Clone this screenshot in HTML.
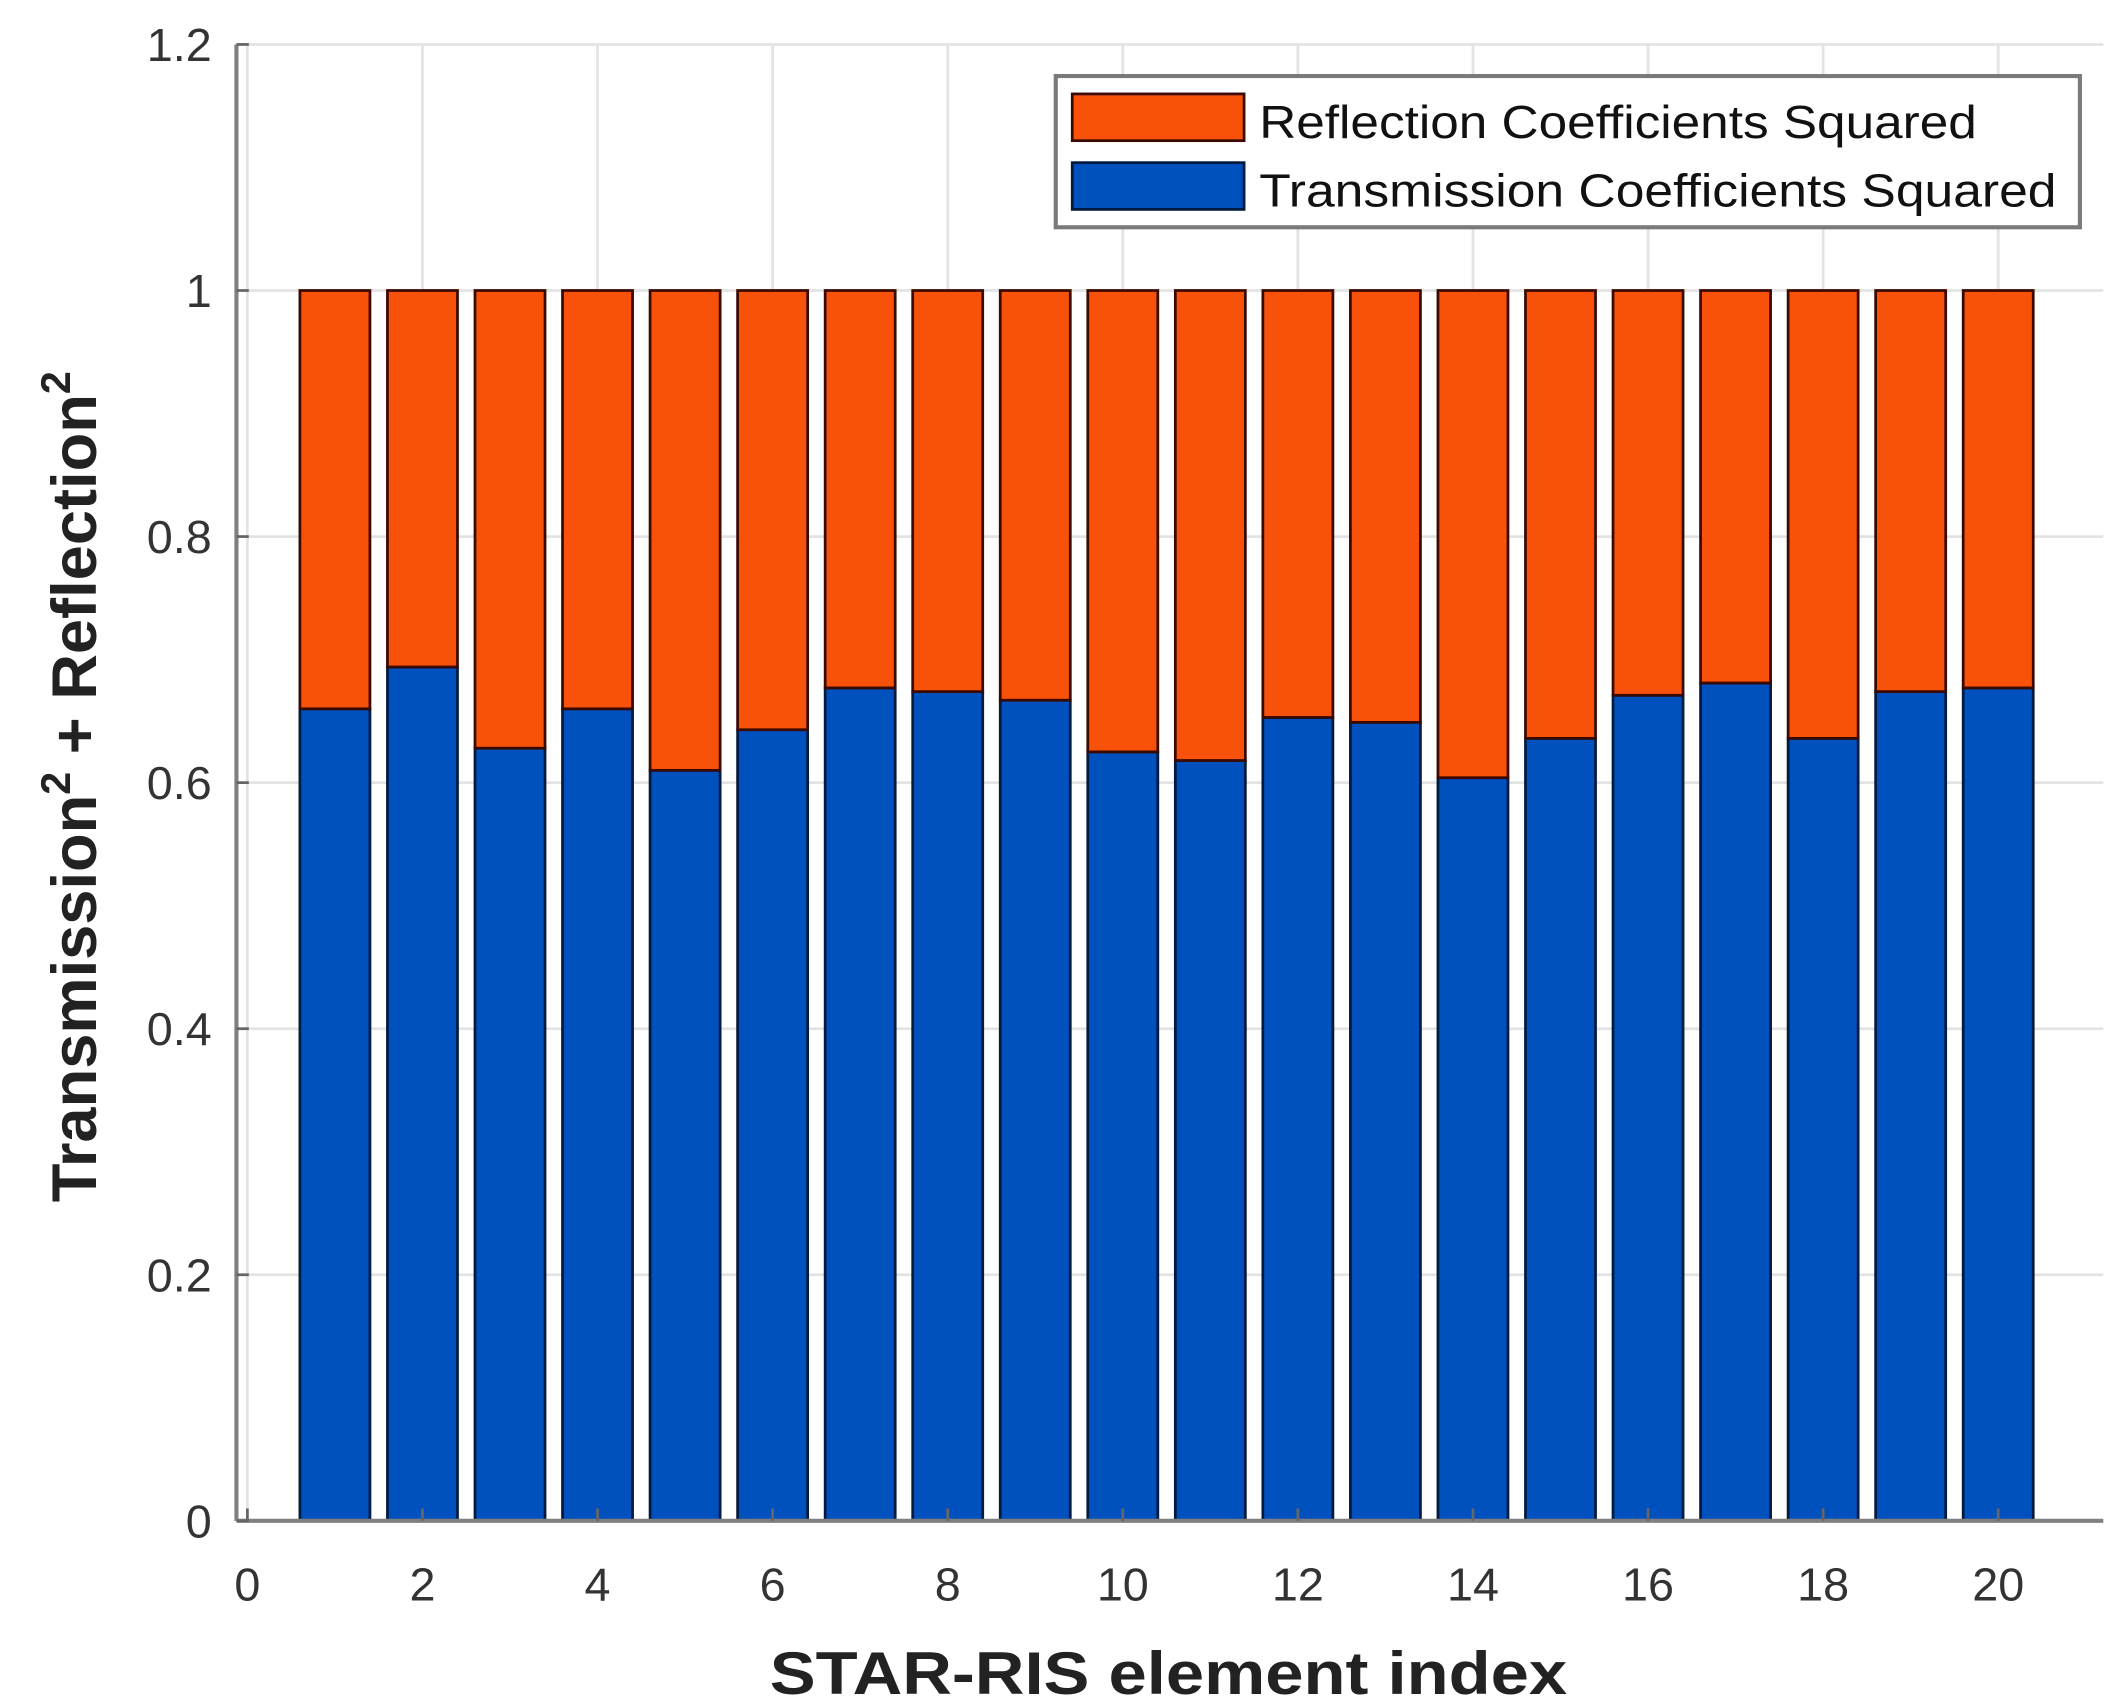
<!DOCTYPE html>
<html><head><meta charset="utf-8"><style>
html,body{margin:0;padding:0;background:#fff}
svg{display:block}
text{font-family:"Liberation Sans",Arial,sans-serif}
</style></head><body>
<svg id="chart" width="2128" height="1700" viewBox="0 0 1548 1236" xmlns="http://www.w3.org/2000/svg">
<g id="grid"></g>
<g id="bars"></g>
<g id="axes"></g>
<g>
  <rect x="768" y="55" width="745" height="110" fill="#fff" stroke="#7a7a7a" stroke-width="3"/>
  <rect x="780" y="68" width="125" height="34" fill="#F8520A" stroke="#3a0a00" stroke-width="2"/>
  <text x="916" y="100" font-size="34" textLength="522" lengthAdjust="spacingAndGlyphs" fill="#111">Reflection Coefficients Squared</text>
  <rect x="780" y="118" width="125" height="34" fill="#0050BE" stroke="#001a40" stroke-width="2"/>
  <text x="916" y="150" font-size="34" textLength="580" lengthAdjust="spacingAndGlyphs" fill="#111">Transmission Coefficients Squared</text>
</g>
<text x="850" y="1232" font-size="44" font-weight="bold" text-anchor="middle" textLength="580" lengthAdjust="spacingAndGlyphs" fill="#222">STAR-RIS element index</text>
<text transform="translate(70,572) rotate(-90)" font-size="46" font-weight="bold" text-anchor="middle" fill="#222">Transmission<tspan dy="-19" font-size="30">2</tspan><tspan dy="19"> + Reflection</tspan><tspan dy="-19" font-size="30">2</tspan></text>
</svg>
<script>
const categories=[1,2,3,4,5,6,7,8,9,10,11,12,13,14,15,16,17,18,19,20];
const transmission=[0.66,0.694,0.628,0.66,0.61,0.643,0.677,0.674,0.667,0.625,0.618,0.653,0.649,0.604,0.636,0.671,0.681,0.636,0.674,0.677];
const reflection=[0.34,0.306,0.372,0.34,0.39,0.357,0.323,0.326,0.333,0.375,0.382,0.347,0.351,0.396,0.364,0.329,0.319,0.364,0.326,0.323];
const xTicks=[0,2,4,6,8,10,12,14,16,18,20];
const yTicks=[0,0.2,0.4,0.6,0.8,1,1.2];
const yTickLabels=["0","0.2","0.4","0.6","0.8","1","1.2"];
const NS="http://www.w3.org/2000/svg";
const X0=172,X1=1530,Y0=1106,Y1=32;
const xmin=-0.125,xmax=21.2,ymin=0,ymax=1.2;
const sx=v=>X0+(v-xmin)/(xmax-xmin)*(X1-X0);
const sy=v=>Y0-(v-ymin)/(ymax-ymin)*(Y0-Y1);
function mk(tag,attrs,parent){const e=document.createElementNS(NS,tag);for(const k in attrs)e.setAttribute(k,attrs[k]);parent.appendChild(e);return e;}
const grid=document.getElementById('grid'),bars=document.getElementById('bars'),axes=document.getElementById('axes');
xTicks.forEach(t=>{const l=mk('line',{x1:sx(t),x2:sx(t),y1:Y1,y2:Y0,stroke:'#e3e3e3','stroke-width':2},grid);

});
yTicks.forEach(t=>{const l=mk('line',{x1:X0,x2:X1,y1:sy(t),y2:sy(t),stroke:'#e3e3e3','stroke-width':2},grid);

});
const bw=0.8;
categories.forEach((c,i)=>{
 const xl=sx(c-bw/2),w=sx(c+bw/2)-xl;
 const t=transmission[i],r=reflection[i];
 const b1=mk('rect',{x:xl,y:sy(t),width:w,height:sy(0)-sy(t),fill:'#0050BE',stroke:'#001a40','stroke-width':2},bars);
 
 
 const b2=mk('rect',{x:xl,y:sy(t+r),width:w,height:sy(t)-sy(t+r),fill:'#F8520A',stroke:'#3a0a00','stroke-width':2},bars);
 
 
});
const ax=mk('line',{x1:X0,x2:X0,y1:Y1,y2:Y0,stroke:'#808080','stroke-width':3},axes);


const bx=mk('line',{x1:X0,x2:X1,y1:Y0,y2:Y0,stroke:'#808080','stroke-width':3},axes);


yTicks.forEach((t,i)=>{
 const tk=mk('line',{x1:X0,x2:X0+9,y1:sy(t),y2:sy(t),stroke:'#666','stroke-width':2},axes);
 
 
 const tx=mk('text',{x:X0-18,y:sy(t)+12,'font-size':34,'text-anchor':'end',fill:'#333'},axes);
 tx.textContent=yTickLabels[i];
 
 
});
xTicks.forEach(t=>{
 const tk=mk('line',{x1:sx(t),x2:sx(t),y1:Y0,y2:Y0-9,stroke:'#666','stroke-width':2},axes);
 
 
 const tx=mk('text',{x:sx(t),y:Y0+58,'font-size':34,'text-anchor':'middle',fill:'#333'},axes);
 tx.textContent=String(t);
 
 
});
</script>
</body></html>
